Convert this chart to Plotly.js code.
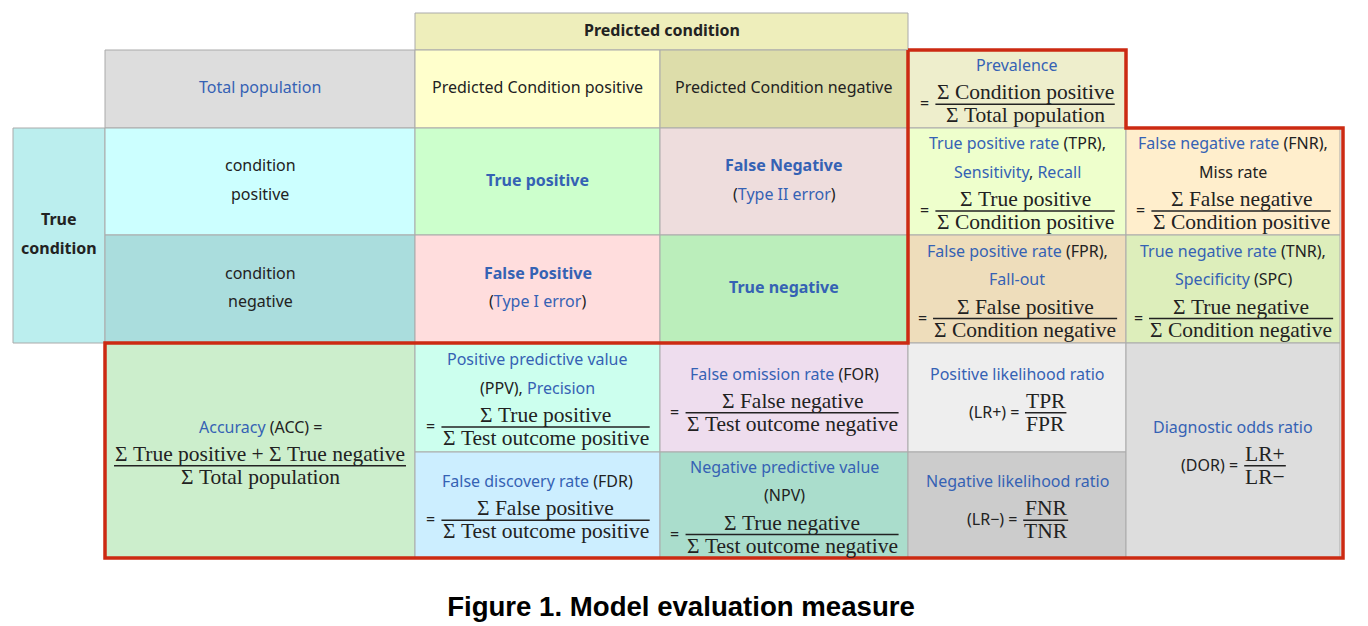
<!DOCTYPE html>
<html><head><meta charset="utf-8">
<script src="https://cdn.plot.ly/plotly-3.0.1.min.js"></script>
<style>html,body{margin:0;padding:0;background:#fff;} #chart{width:1368px;height:626px;}</style>
</head><body><div id="chart"></div>
<script>
// ================= DATA (texts of the table) =================
// markup: {..} = link-blue text, **..** = bold; an array [prefix, numerator, denominator] = fraction line
const predictedConditionHeader = ["**Predicted condition**"];
const totalPopulation = ["{Total population}"];
const predictedPositive = ["Predicted Condition positive"];
const predictedNegative = ["Predicted Condition negative"];
const prevalence = ["{Prevalence}", ["=", "Σ Condition positive", "Σ Total population"]];
const trueCondition = ["**True**", "**condition**"];
const conditionPositive = ["condition", "positive"];
const conditionNegative = ["condition", "negative"];
const truePositive = ["**{True positive}**"];
const falseNegative = ["**{False Negative}**", "({Type II error})"];
const falsePositive = ["**{False Positive}**", "({Type I error})"];
const trueNegative = ["**{True negative}**"];
const tprCell = ["{True positive rate} (TPR),", "{Sensitivity}, {Recall}", ["=", "Σ True positive", "Σ Condition positive"]];
const fnrCell = ["{False negative rate} (FNR),", "Miss rate", ["=", "Σ False negative", "Σ Condition positive"]];
const fprCell = ["{False positive rate} (FPR),", "{Fall-out}", ["=", "Σ False positive", "Σ Condition negative"]];
const tnrCell = ["{True negative rate} (TNR),", "{Specificity} (SPC)", ["=", "Σ True negative", "Σ Condition negative"]];
const accuracyCell = ["{Accuracy} (ACC) =", ["", "Σ True positive + Σ True negative", "Σ Total population"]];
const ppvCell = ["{Positive predictive value}", "(PPV), {Precision}", ["=", "Σ True positive", "Σ Test outcome positive"]];
const fdrCell = ["{False discovery rate} (FDR)", ["=", "Σ False positive", "Σ Test outcome positive"]];
const forCell = ["{False omission rate} (FOR)", ["=", "Σ False negative", "Σ Test outcome negative"]];
const npvCell = ["{Negative predictive value}", "(NPV)", ["=", "Σ True negative", "Σ Test outcome negative"]];
const plrCell = ["{Positive likelihood ratio}", ["(LR+) =", "TPR", "FPR"]];
const nlrCell = ["{Negative likelihood ratio}", ["(LR−) =", "FNR", "TNR"]];
const dorCell = ["{Diagnostic odds ratio}", ["(DOR) =", "LR+", "LR−"]];
const figureTitle = "Figure 1. Model evaluation measure";

// ================= LAYOUT / STYLE (separate from data) =================
const colEdges = [13, 105, 415, 660, 908, 1126, 1340];
const rowEdges = [13, 50, 128, 235, 343, 452, 558];
// [content, col0, col1, row0, row1, fill]
const cellLayout = [
  [predictedConditionHeader, 2, 4, 0, 1, '#eeeebb'],
  [totalPopulation, 1, 2, 1, 2, '#dddddd'],
  [predictedPositive, 2, 3, 1, 2, '#ffffcc'],
  [predictedNegative, 3, 4, 1, 2, '#ddddaa'],
  [prevalence, 4, 5, 1, 2, '#eeeecc'],
  [trueCondition, 0, 1, 2, 4, '#bbeeee'],
  [conditionPositive, 1, 2, 2, 3, '#ccffff'],
  [conditionNegative, 1, 2, 3, 4, '#aadddd'],
  [truePositive, 2, 3, 2, 3, '#ccffcc'],
  [falseNegative, 3, 4, 2, 3, '#eedddd'],
  [falsePositive, 2, 3, 3, 4, '#ffdddd'],
  [trueNegative, 3, 4, 3, 4, '#bbeebb'],
  [tprCell, 4, 5, 2, 3, '#eeffcc'],
  [fnrCell, 5, 6, 2, 3, '#ffeecc'],
  [fprCell, 4, 5, 3, 4, '#eeddbb'],
  [tnrCell, 5, 6, 3, 4, '#ddeebb'],
  [accuracyCell, 1, 2, 4, 6, '#cceecc'],
  [ppvCell, 2, 3, 4, 5, '#ccffee'],
  [fdrCell, 2, 3, 5, 6, '#cceeff'],
  [forCell, 3, 4, 4, 5, '#eeddee'],
  [npvCell, 3, 4, 5, 6, '#aaddcc'],
  [plrCell, 4, 5, 4, 5, '#eeeeee'],
  [nlrCell, 4, 5, 5, 6, '#cccccc'],
  [dorCell, 5, 6, 4, 6, '#dddddd']
];
// red outline around the derived-measure area (in grid coordinates)
const outlineCols = [4, 5, 5, 6, 6, 1, 1, 4, 4];
const outlineRows = [1, 1, 2, 2, 6, 6, 4, 4, 1];

const SANS = "'Noto Sans', 'Open Sans', sans-serif";
const SANS_SIZE = 16;
const SERIF = "'Liberation Serif', 'Times New Roman', serif";
const SERIF_SIZE = 21.5;
const BLUE = '#3562b4';
const INK = '#222222';
const TEXT_LH = 28.5, FRAC_LH = 44, FRAC_HALF = 11, TEXT_SHIFT = -2;

const ctx = document.createElement('canvas').getContext('2d');
function measure(text, size, family, bold) {
  ctx.font = (bold ? 'bold ' : '') + size + 'px ' + family;
  return ctx.measureText(text).width;
}
function markup(s) {
  return s.replace(/\*\*(.+?)\*\*/g, '<b>$1</b>')
          .replace(/\{(.+?)\}/g, '<span style="color:' + BLUE + '">$1</span>');
}

const traces = [];
const annotations = [];
const shapes = [];

cellLayout.forEach(function (c) {
  const content = c[0];
  const x0 = colEdges[c[1]], x1 = colEdges[c[2]];
  const y0 = rowEdges[c[3]], y1 = rowEdges[c[4]];
  traces.push({
    type: 'scatter', mode: 'lines', x: [x0, x1, x1, x0, x0], y: [y0, y0, y1, y1, y0],
    fill: 'toself', fillcolor: c[5], line: {color: '#aaaaaa', width: 1},
    hoverinfo: 'skip', showlegend: false
  });
  const cx = (x0 + x1) / 2;
  let total = 0;
  content.forEach(function (l) { total += Array.isArray(l) ? FRAC_LH : TEXT_LH; });
  let y = (y0 + y1) / 2 - total / 2;
  content.forEach(function (l) {
    if (!Array.isArray(l)) {
      annotations.push({x: cx, y: y + TEXT_LH / 2 + TEXT_SHIFT, xref: 'x', yref: 'y', text: markup(l),
        showarrow: false, xanchor: 'center', yanchor: 'middle', borderpad: 0,
        font: {family: SANS, size: SANS_SIZE, color: INK}});
      y += TEXT_LH;
    } else {
      const prefix = l[0], num = l[1], den = l[2];
      const fracW = Math.max(measure(num, SERIF_SIZE, SERIF), measure(den, SERIF_SIZE, SERIF)) + 2;
      const preW = prefix ? measure(prefix, SANS_SIZE, SANS) : 0;
      const gap = prefix ? 7 : 0;
      const tot = preW + gap + fracW;
      const sx = cx - tot / 2;
      const barY = y + FRAC_LH / 2;
      if (prefix) {
        annotations.push({x: sx, y: barY, xref: 'x', yref: 'y', text: prefix, showarrow: false,
          xanchor: 'left', yanchor: 'middle', borderpad: 0,
          font: {family: SANS, size: SANS_SIZE, color: INK}});
      }
      const fx = sx + preW + gap + fracW / 2;
      annotations.push({x: fx, y: barY - FRAC_HALF, xref: 'x', yref: 'y', text: num, showarrow: false,
        xanchor: 'center', yanchor: 'middle', borderpad: 0,
        font: {family: SERIF, size: SERIF_SIZE, color: INK}});
      annotations.push({x: fx, y: barY + FRAC_HALF + 1, xref: 'x', yref: 'y', text: den, showarrow: false,
        xanchor: 'center', yanchor: 'middle', borderpad: 0,
        font: {family: SERIF, size: SERIF_SIZE, color: INK}});
      shapes.push({type: 'line', xref: 'x', yref: 'y', x0: fx - fracW / 2, x1: fx + fracW / 2,
        y0: barY + 1, y1: barY + 1, line: {color: INK, width: 1.3}});
      y += FRAC_LH;
    }
  });
});

traces.push({
  type: 'scatter', mode: 'lines',
  x: outlineCols.map(function (i) { return colEdges[i] + (i === 6 ? 3 : 0); }),
  y: outlineRows.map(function (i) { return rowEdges[i]; }),
  line: {color: '#cc2a12', width: 3.5}, hoverinfo: 'skip', showlegend: false
});

const layout = {
  width: 1368, height: 626,
  margin: {l: 0, r: 0, t: 0, b: 0},
  paper_bgcolor: '#ffffff', plot_bgcolor: '#ffffff',
  xaxis: {range: [0, 1368], visible: false, fixedrange: true},
  yaxis: {range: [626, 0], visible: false, fixedrange: true},
  showlegend: false,
  title: {text: '<b>' + figureTitle + '</b>', x: 681 / 1368, xanchor: 'center',
    y: 1 - 606 / 626, yanchor: 'middle', yref: 'container',
    font: {family: "'Liberation Sans', Arial, sans-serif", size: 27.6, color: '#000000'}},
  annotations: annotations,
  shapes: shapes
};
Plotly.newPlot('chart', traces, layout, {staticPlot: true});
</script>
</body></html>
